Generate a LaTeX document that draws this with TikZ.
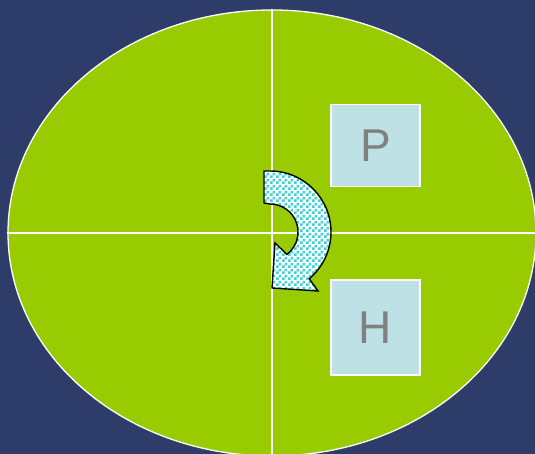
\documentclass[tikz,border=0pt]{standalone}
\usepackage{fontspec}
\setmainfont{Liberation Sans}
\usetikzlibrary{shapes.geometric,patterns}
\definecolor{navy}{HTML}{2E3C69}
\definecolor{leaf}{HTML}{99CC00}
\definecolor{pale}{HTML}{BDE1E4}
\definecolor{checker}{HTML}{40CFD2}
\pgfdeclarepatternformonly{bigchecker}{\pgfpointorigin}{\pgfpoint{6pt}{6pt}}{\pgfpoint{6pt}{6pt}}{
  \pgfpathrectangle{\pgfpointorigin}{\pgfpoint{3pt}{3pt}}
  \pgfpathrectangle{\pgfpoint{3pt}{3pt}}{\pgfpoint{3pt}{3pt}}
  \pgfusepath{fill}}

\begin{document}
\begin{tikzpicture}[x=1pt, y=1pt,
  field/.style={ellipse, draw=white, line width=1.3pt, fill=leaf, inner sep=0pt, minimum width=528pt, minimum height=446pt},
  axis/.style={draw=white, line width=1.8pt},
  letter/.style={draw=white, line width=1.3pt, fill=pale, inner sep=0pt, minimum width=89pt, text=gray, font=\fontsize{46}{50}\selectfont},
  turn/.style={draw=black, line width=1.4pt, line join=miter, preaction={fill=white}, pattern=bigchecker, pattern color=checker}]
  \useasboundingbox (0,0) rectangle (535,454);
  \fill[navy] (0,0) rectangle (535,454);
  \node[field] (F) at (272,221) {};
  \draw[axis] (F.west) -- (F.east);
  \draw[axis] (F.north) -- (F.south);
  \node[letter, minimum height=82pt] (P) at (375.5,308.5) {P};
  \node[letter, minimum height=95pt] (H) at (375.5,126.5) {H};
  % curved arrow
  \draw[turn] (264,283) -- (270,283) arc[start angle=90, end angle=-50, radius=61pt]
    -- (318,163) -- (272,166) -- (275,211) -- (286.9,199.6)
    arc[start angle=-53, end angle=90, radius=28pt] -- (264,251) -- cycle;
\end{tikzpicture}
\end{document}
